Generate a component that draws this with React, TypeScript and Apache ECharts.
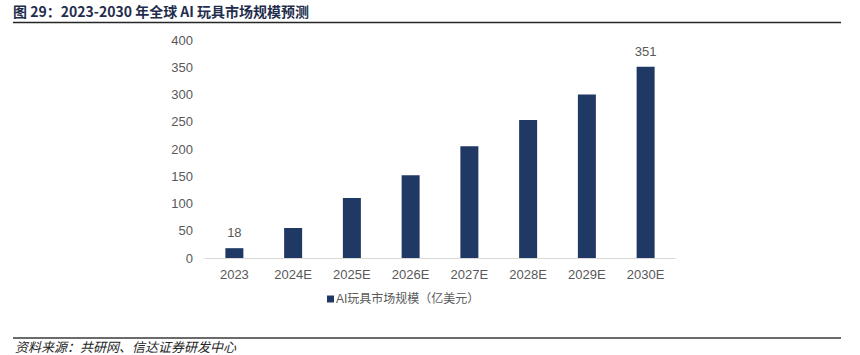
import React, { useEffect, useRef } from "react";
import * as echarts from "echarts";

const categories = ["2023", "2024E", "2025E", "2026E", "2027E", "2028E", "2029E", "2030E"];
const marketSize = [18, 55, 110, 152, 205, 253, 300, 351];
const labeledIndexes = [0, 7];
const seriesName = "AI玩具市场规模（亿美元）";
const titleText = "图 29：2023-2030 年全球 AI 玩具市场规模预测";
const sourceText = "资料来源：共研网、信达证券研发中心";

export default function App() {
  const ref = useRef<HTMLDivElement>(null);
  useEffect(() => {
    document.body.style.margin = "0";
    const chart = echarts.init(ref.current!, null, { renderer: "svg" });
    const latin = "'Liberation Sans', Arial, 'Noto Sans CJK SC', sans-serif";
    chart.setOption({
      animation: false,
      grid: { left: 205, right: 185, top: 40, bottom: 97 },
      xAxis: {
        type: "category",
        data: categories,
        axisLine: { lineStyle: { color: "#d9d9d9", width: 1 } },
        axisTick: { show: false },
        axisLabel: { color: "#595959", fontSize: 13, fontFamily: latin, margin: 10 },
      },
      yAxis: {
        type: "value",
        min: 0,
        max: 400,
        interval: 50,
        splitLine: { show: false },
        axisLine: { show: false },
        axisTick: { show: false },
        axisLabel: { color: "#595959", fontSize: 13, fontFamily: latin, margin: 12 },
      },
      legend: {
        data: [seriesName],
        left: 322,
        top: 288,
        icon: "rect",
        itemWidth: 7,
        itemHeight: 7,
        itemGap: 4,
        textStyle: { color: "#595959", fontSize: 12, fontFamily: latin, padding: [0, 0, 0, -3] },
      },
      series: [
        {
          name: seriesName,
          type: "bar",
          barWidth: 18,
          itemStyle: { color: "#1f3864" },
          data: marketSize.map((v, i) => ({
            value: v,
            label: {
              show: labeledIndexes.includes(i),
              position: "top",
              distance: 9,
              color: "#595959",
              fontSize: 13,
              fontFamily: latin,
            },
          })),
        },
      ],
      graphic: [
        {
          type: "text",
          left: 13,
          top: 4,
          style: {
            text: titleText,
            fill: "#1f2d4d",
            fontSize: 14,
            fontWeight: "bold",
            fontFamily: "'Noto Sans CJK SC', sans-serif",
          },
        },
        {
          type: "line",
          shape: { x1: 13, y1: 22.5, x2: 841, y2: 22.5 },
          style: { stroke: "#262626", lineWidth: 1.5 },
        },
        {
          type: "line",
          shape: { x1: 13, y1: 338, x2: 841, y2: 338 },
          style: { stroke: "#3a3a3a", lineWidth: 1.5 },
        },
        {
          type: "text",
          x: 15,
          y: 346,
          style: {
            text: sourceText,
            fill: "#262626",
            fontSize: 13,
            fontStyle: "italic",
            verticalAlign: "middle",
            fontFamily: "'Noto Sans CJK SC', sans-serif",
          },
        },
      ],
    });
    return () => chart.dispose();
  }, []);
  return <div ref={ref} style={{ width: 860, height: 355 }} />;
}
